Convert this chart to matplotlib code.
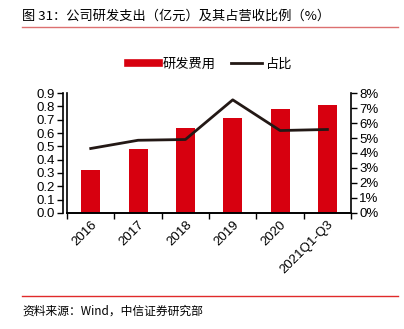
import matplotlib
matplotlib.use("Agg")
import matplotlib.pyplot as plt
from matplotlib.lines import Line2D
from matplotlib.ticker import FuncFormatter

plt.rcParams['font.family'] = ['Liberation Sans', 'Noto Sans CJK SC', 'DejaVu Sans']

years = ['2016', '2017', '2018', '2019', '2020', '2021Q1-Q3']
rd_spend = [0.32, 0.48, 0.64, 0.71, 0.78, 0.81]   # 亿元
rd_ratio = [4.3, 4.85, 4.9, 7.55, 5.5, 5.57]      # %

fig = plt.figure(figsize=(4.04, 3.29), dpi=100)
ax = fig.add_axes([0.166, 0.353, 0.703, 0.364])
ax2 = ax.twinx()

x = list(range(len(years)))
ax.bar(x, rd_spend, width=0.4, color='#d7000f', label='研发费用')
ax2.plot(x, rd_ratio, color='#231815', lw=2, label='占比')

ax.set_xlim(-0.5, len(years) - 0.5)
ax.set_ylim(0, 0.9)
ax.set_yticks([i / 10 for i in range(10)])
ax.yaxis.set_major_formatter(FuncFormatter(lambda v, p: f'{v:.1f}'))
ax2.set_ylim(0, 8)
ax2.set_yticks(range(9))
ax2.yaxis.set_major_formatter(FuncFormatter(lambda v, p: f'{int(v)}%'))

ax.set_xticks([i - 0.5 for i in range(len(years) + 1)], minor=False)
ax.set_xticklabels([])
ax.set_xticks(x, minor=True)
ax.set_xticklabels(years, minor=True, rotation=45, ha='right', rotation_mode='anchor', fontsize=9.5)
ax.tick_params(axis='x', which='minor', length=0, pad=4)
ax.tick_params(axis='x', which='major', length=4, direction='out', width=1)

for a in (ax, ax2):
    a.tick_params(axis='y', labelsize=9.5, length=4, width=1, pad=2)
    a.spines['top'].set_visible(False)
    for s in ['left', 'right', 'bottom']:
        a.spines[s].set_linewidth(1.2)
ax.spines['left'].set_position(('outward', 3))
ax.spines['right'].set_visible(False)

handles = [Line2D([0], [0], color='#d7000f', lw=5.5),
           Line2D([0], [0], color='#231815', lw=2)]
fig.legend(handles, ['研发费用', '占比'], loc='center', bbox_to_anchor=(0.52, 0.805),
           ncol=2, frameon=False, handlelength=2.35, columnspacing=1.15,
           handletextpad=0.3, prop={'family': ['Noto Sans CJK SC'], 'size': 9.5})

fig.text(0.055, 0.952, '图 31：公司研发支出（亿元）及其占营收比例（%）', fontsize=9.5,
         family=['Noto Sans CJK SC', 'DejaVu Sans'], va='center', ha='left')
fig.add_artist(Line2D([0.055, 0.985], [0.919, 0.919], color='#dc7070', lw=1))
fig.add_artist(Line2D([0.055, 0.985], [0.101, 0.101], color='#e02a2a', lw=1))
fig.text(0.055, 0.055, '资料来源：Wind，中信证券研究部', fontsize=8.5,
         family=['Noto Sans CJK SC', 'DejaVu Sans'], va='center', ha='left')

fig.savefig('out.png', dpi=100)
